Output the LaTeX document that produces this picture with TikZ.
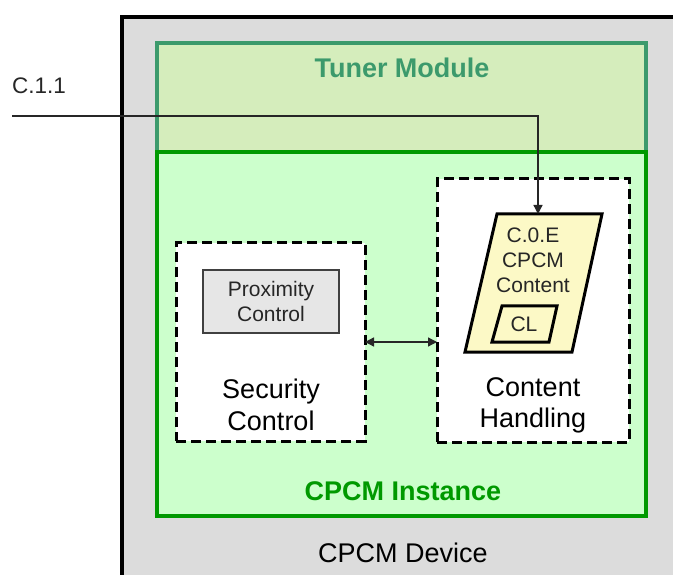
\documentclass[tikz,border=0pt]{standalone}
\usepackage{fontspec}
\setmainfont{Liberation Sans}
\usetikzlibrary{arrows.meta,calc}
\definecolor{devgray}{HTML}{DCDCDC}
\definecolor{tunerfill}{HTML}{D5EDBC}
\definecolor{tunerline}{HTML}{3C9A6C}
\definecolor{instfill}{HTML}{CCFFCC}
\definecolor{instline}{HTML}{009900}
\definecolor{contfill}{HTML}{FCF9C6}
\definecolor{proxfill}{HTML}{E6E6E6}
\definecolor{proxline}{HTML}{404040}
\begin{document}
\begin{tikzpicture}[x=1pt,y=-1pt,
  boxbase/.style={anchor=north west, inner sep=0pt, outer sep=0pt},
  dashbox/.style={boxbase, draw=black, fill=white, line width=3pt, dash pattern=on 10pt off 5pt},
  bigtext/.style={font=\fontsize{27}{31.5}\selectfont, align=center, inner sep=0pt},
  smalltext/.style={font=\fontsize{21}{25}\selectfont, align=center, inner sep=0pt, text=black!85},
  conn/.style={line width=1.3pt, color=black!85},
  tip/.style={-{Triangle[length=9pt,width=9pt]}}
]
\useasboundingbox (0,0) rectangle (673,575);
\clip (0,0) rectangle (673,575);
\fill[white] (0,0) rectangle (673,575);
% device
\node[boxbase, draw=black, fill=devgray, line width=4pt, minimum width=600pt, minimum height=600pt] (dev) at (121.5,17) {};
% tuner module
\node[boxbase, draw=tunerline, fill=tunerfill, line width=4pt, minimum width=489pt, minimum height=109pt] (tuner) at (157,43) {};
\node[font=\fontsize{27}{30}\bfseries\selectfont, text=tunerline, inner sep=0pt] (tunerlbl) at (402,68) {Tuner Module};
% instance
\node[boxbase, draw=instline, fill=instfill, line width=4pt, minimum width=489pt, minimum height=364pt] (inst) at (157,152) {};
\node[font=\fontsize{27}{30}\bfseries\selectfont, text=instline, inner sep=0pt] (instlbl) at (403,491) {CPCM Instance};
\node[bigtext] (devlbl) at (403,553) {CPCM Device};
% security control
\node[dashbox, minimum width=189pt, minimum height=198pt] (sec) at (176,243) {};
\node[boxbase, draw=proxline, fill=proxfill, line width=1.5pt, minimum width=136pt, minimum height=63pt] (prox) at (203,270) {};
\node[smalltext] (proxlbl) at (271,301) {Proximity\\Control};
\node[bigtext] (seclbl) at (271,405) {Security\\Control};
% content handling
\node[dashbox, minimum width=192pt, minimum height=263pt] (cont) at (437,179) {};
\node[bigtext] (contlbl) at (533,405.5) {Content\\Handling};
% content parallelogram
\draw[line width=3pt, fill=contfill, line join=miter] (497,214) -- (602,214) -- (572,352) -- (465,352) -- cycle;
\coordinate (ctop) at (538,214);
\node[smalltext] (celbl) at (533,260) {C.0.E\\CPCM\\Content};
\draw[line width=3pt, fill=contfill] (502,306) -- (557,306) -- (549,342) -- (492,342) -- cycle;
\node[smalltext] (cllbl) at (524,324) {CL};
% input line
\coordinate (cin) at (12,116);
\node[font=\fontsize{22.5}{26}\selectfont, text=black!85, anchor=south west, inner sep=0pt] (c11) at (12,94) {C.1.1};
\draw[conn, tip] (cin) -| (ctop);
% interaction arrow
\draw[conn, {Triangle[length=9pt,width=9pt]}-{Triangle[length=9pt,width=9pt]}] (sec.east) -- (sec.east -| cont.west);
\end{tikzpicture}
\end{document}
